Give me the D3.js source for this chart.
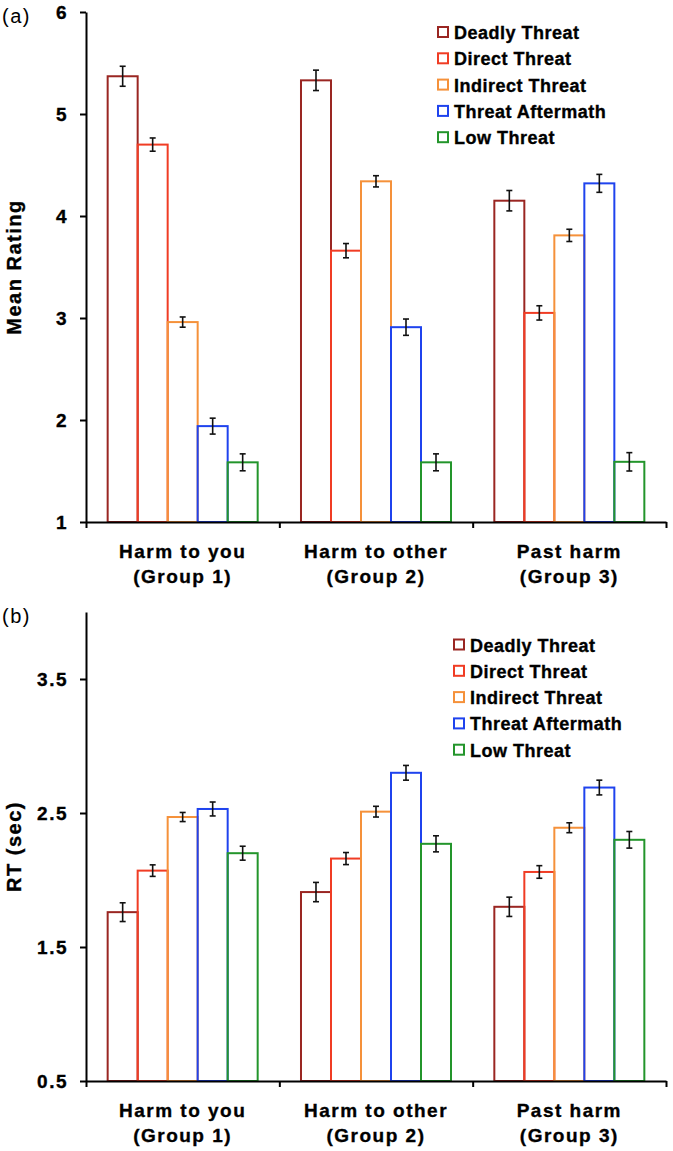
<!DOCTYPE html>
<html>
<head>
<meta charset="utf-8">
<script src="https://cdn.jsdelivr.net/npm/d3@7"></script>
<style>
  body { margin: 0; background: #fff; }
  text { font-family: "Liberation Sans", Arial, sans-serif; }
  .tick text, .catLabel, .axisTitle, .legendText { stroke: #000; stroke-width: 0.35px; }
  .tick text { font-size: 19px; font-weight: bold; letter-spacing: 1.5px; }
  .catLabel { font-size: 19px; font-weight: bold; letter-spacing: 1.5px; }
  .axisTitle { font-size: 20px; font-weight: bold; letter-spacing: 1.5px; }
  .legendText { font-size: 18px; font-weight: bold; letter-spacing: 0.5px; }
  .panelLabel { font-size: 20px; letter-spacing: 1.5px; }
</style>
</head>
<body>
<div id="chart"></div>
<script>
// categories and series
var groups = ["g1", "g2", "g3"];
var groupLine1 = ["Harm to you", "Harm to other", "Past harm"];
var groupLine2 = ["(Group 1)", "(Group 2)", "(Group 3)"];
var series = ["Deadly Threat", "Direct Threat", "Indirect Threat", "Threat Aftermath", "Low Threat"];
var colors = ["#9a2622", "#f03c24", "#f5913a", "#1f43ee", "#23952b"];

// (a) mean rating, one array per group, in series order
var ratingG1 = [5.37, 4.70, 2.96, 1.94, 1.585];
var ratingG2 = [5.33, 3.66, 4.34, 2.91, 1.585];
var ratingG3 = [4.15, 3.05, 3.81, 4.32, 1.59];
var ratingErrG1 = [0.098, 0.065, 0.05, 0.078, 0.083];
var ratingErrG2 = [0.10, 0.07, 0.055, 0.08, 0.083];
var ratingErrG3 = [0.10, 0.07, 0.06, 0.088, 0.09];
var ratingTicks = [1, 2, 3, 4, 5, 6];

// (b) RT in seconds
var rtG1 = [1.76, 2.07, 2.47, 2.53, 2.20];
var rtG2 = [1.91, 2.16, 2.51, 2.80, 2.27];
var rtG3 = [1.80, 2.06, 2.39, 2.69, 2.30];
var rtErrG1 = [0.07, 0.043, 0.034, 0.052, 0.052];
var rtErrG2 = [0.072, 0.045, 0.04, 0.055, 0.06];
var rtErrG3 = [0.072, 0.047, 0.037, 0.055, 0.062];
var rtTicks = [0.5, 1.5, 2.5, 3.5];

var svgWidth = 673;
var svgHeight = 1151;

var svg = d3.select("#chart")
  .append("svg")
  .attr("width", svgWidth)
  .attr("height", svgHeight);

function drawPanel(opts) {
  var left = 86, right = 666;
  var top = opts.top, bottom = opts.bottom;

  var x0 = d3.scaleBand().domain(groups).range([left, right]);
  var x1 = d3.scaleBand().domain(series).range([0, x0.bandwidth()]).paddingOuter(0.722);
  var y = d3.scaleLinear().domain(opts.domain).range([bottom, top]);

  var g = svg.append("g");

  //build rows from the arrays
  var rows = [];
  groups.forEach(function(grp, gi) {
    series.forEach(function(s, si) {
      rows.push({ grp: grp, s: s, si: si, v: opts.values[gi][si], e: opts.errors[gi][si] });
    });
  });

  //bars, later ones on top so shared edges take their colour
  g.selectAll(".bar").data(rows).enter().append("rect")
    .attr("class", "bar")
    .attr("x", d => x0(d.grp) + x1(d.s))
    .attr("y", d => y(d.v))
    .attr("width", x1.bandwidth())
    .attr("height", d => y(opts.domain[0]) - y(d.v))
    .attr("fill", "none")
    .attr("stroke", d => colors[d.si])
    .attr("stroke-width", 2);

  //error bars
  var err = g.selectAll(".err").data(rows).enter().append("g").attr("class", "err")
    .attr("stroke", "#111").attr("stroke-width", 1.6);
  var cx = d => x0(d.grp) + x1(d.s) + x1.bandwidth() / 2;
  err.append("line")
    .attr("x1", cx).attr("x2", cx)
    .attr("y1", d => y(d.v + d.e)).attr("y2", d => y(d.v - d.e));
  err.append("line")
    .attr("x1", d => cx(d) - 3).attr("x2", d => cx(d) + 3)
    .attr("y1", d => y(d.v + d.e)).attr("y2", d => y(d.v + d.e));
  err.append("line")
    .attr("x1", d => cx(d) - 3).attr("x2", d => cx(d) + 3)
    .attr("y1", d => y(d.v - d.e)).attr("y2", d => y(d.v - d.e));

  //y axis
  var leftAxis = d3.axisLeft(y).tickValues(opts.ticks).tickSize(6).tickSizeOuter(0).tickPadding(12)
    .tickFormat(d3.format(opts.fmt));
  var ya = g.append("g").attr("transform", `translate(${left},0)`).call(leftAxis);
  ya.select(".domain").attr("stroke-width", 2);
  ya.selectAll(".tick line").attr("stroke-width", 2);
  ya.selectAll(".tick text").attr("fill", "#000");

  //x axis with ticks at group boundaries
  var xb = d3.scaleLinear().domain([0, groups.length]).range([left, right]);
  var bottomAxis = d3.axisBottom(xb).tickValues(d3.range(groups.length + 1)).tickSize(6)
    .tickSizeOuter(0).tickFormat("");
  var xa = g.append("g").attr("transform", `translate(0,${bottom})`).call(bottomAxis);
  xa.select(".domain").attr("stroke-width", 2);
  xa.selectAll(".tick line").attr("stroke-width", 2);

  //category labels
  groups.forEach(function(grp, gi) {
    var mid = x0(grp) + x0.bandwidth() / 2;
    g.append("text").attr("class", "catLabel").attr("text-anchor", "middle")
      .attr("x", mid).attr("y", bottom + 36).text(groupLine1[gi]);
    g.append("text").attr("class", "catLabel").attr("text-anchor", "middle")
      .attr("x", mid).attr("y", bottom + 61).text(groupLine2[gi]);
  });

  //axis title
  g.append("text")
    .attr("class", "axisTitle")
    .attr("transform", `translate(21,${(top + bottom) / 2}) rotate(-90)`)
    .attr("text-anchor", "middle")
    .text(opts.title);

  //panel label
  g.append("text").attr("class", "panelLabel")
    .attr("x", 2).attr("y", opts.labelY).text(opts.label);

  //legend
  var legend = g.selectAll(".lineLegend").data(series).enter().append("g")
    .attr("class", "lineLegend")
    .attr("transform", (d, i) => `translate(${opts.legendX},${opts.legendY + i * 26.3})`);
  legend.append("rect")
    .attr("x", 0).attr("y", -5).attr("width", 10).attr("height", 10)
    .attr("fill", "none")
    .attr("stroke", (d, i) => colors[i])
    .attr("stroke-width", 2);
  legend.append("text").attr("class", "legendText")
    .attr("x", 16).attr("y", 7)
    .text(d => d);
}

drawPanel({
  top: 12, bottom: 522, domain: [1, 6], ticks: ratingTicks, fmt: "d",
  values: [ratingG1, ratingG2, ratingG3], errors: [ratingErrG1, ratingErrG2, ratingErrG3],
  title: "Mean Rating", label: "(a)", labelY: 23, legendX: 438, legendY: 32
});

drawPanel({
  top: 612, bottom: 1081, domain: [0.5, 4], ticks: rtTicks, fmt: ".1f",
  values: [rtG1, rtG2, rtG3], errors: [rtErrG1, rtErrG2, rtErrG3],
  title: "RT (sec)", label: "(b)", labelY: 623, legendX: 454, legendY: 644.5
});
</script>
</body>
</html>
